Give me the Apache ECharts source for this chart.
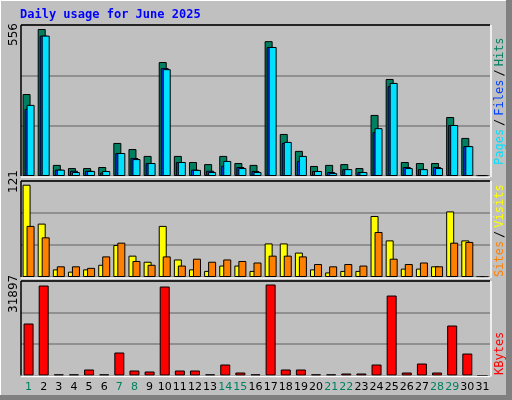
<!DOCTYPE html>
<html><head><meta charset="utf-8">
<script src="https://cdn.jsdelivr.net/npm/echarts@6/dist/echarts.min.js"></script>
<style>html,body{margin:0;padding:0;background:#c0c0c0}#c{width:512px;height:400px}</style>
</head><body><div id="c"></div>
<script>
const days = Array.from({length:31},(_,i)=>String(i+1));
const weekend = ['1','7','8','14','15','21','22','28','29'];
const hits  = [310,556,42,30,30,34,125,102,76,431,76,53,45,76,49,42,510,159,95,38,42,45,30,231,367,53,49,49,223,144,0];
const files = [254,531,24,20,20,13,87,68,49,408,53,24,20,39,34,19,488,125,57,19,15,26,15,166,340,34,26,34,193,113,0];
const pages = [269,531,24,15,19,19,87,64,49,404,53,23,15,57,30,15,488,129,76,19,11,26,15,181,352,30,26,30,193,113,0];
const visits= [121,70,10,7,10,16,42,28,20,67,23,10,8,15,15,8,44,44,32,10,6,8,8,80,48,11,11,14,86,48,0];
const sites = [67,52,14,14,12,27,45,21,16,27,15,24,20,23,21,19,28,28,27,17,14,17,15,59,24,17,19,14,45,46,0];
const kbytes= [18222,31540,400,400,2100,400,8060,1750,1400,31190,1750,1750,400,3850,1050,400,31897,2100,2100,400,400,700,700,3850,28030,1050,4200,1050,17520,7700,0];

const maxH = Math.max(...hits), maxV = Math.max(...visits), maxK = Math.max(...kbytes);
const topH = maxH*151/147, topV = maxV*96/92.3, topK = maxK*94.5/91;
const L=21, R=22;
const grids=[{left:L,right:R,top:25,height:151},{left:L,right:R,top:181,height:96},{left:L,right:R,top:281,height:94.5}];
function xa(i,show){return {type:'category',gridIndex:i,data:days,axisLine:{show:false},axisTick:{show:false},
  axisLabel:{show:show,margin:6,fontFamily:'DejaVu Sans',fontSize:11,interval:0,
    color:v=>weekend.includes(v)?'#008060':'#000'}};}
function ya(i,mx){return {type:'value',gridIndex:i,min:0,max:mx,interval:mx/3,axisLabel:{show:false},axisLine:{show:false},axisTick:{show:false},
  splitLine:{lineStyle:{color:'#808080',width:1.5}}};}
const bs={borderColor:'#000',borderWidth:1};
function bar(name,data,color,xi,w,gap){return {name,type:'bar',data,xAxisIndex:xi,yAxisIndex:xi,barWidth:w,barGap:gap,
  itemStyle:Object.assign({color},bs),animation:false,silent:true};}
function bevel(g){const x=g.left,y=g.top,w=512-g.left-g.right,h=g.height;return [
  {type:'line',shape:{x1:x,y1:y,x2:x+w,y2:y},style:{stroke:'#000',lineWidth:1.5},z:10},
  {type:'line',shape:{x1:x,y1:y,x2:x,y2:y+h},style:{stroke:'#000',lineWidth:1.5},z:10},
  {type:'line',shape:{x1:x,y1:y+h+1,x2:x+w,y2:y+h+1},style:{stroke:'#fff',lineWidth:1.5},z:10},
  {type:'line',shape:{x1:x+w+1,y1:y,x2:x+w+1,y2:y+h+1},style:{stroke:'#fff',lineWidth:1.5},z:10}];}
const ff='DejaVu Sans Mono';
const chart=echarts.init(document.getElementById('c'));
chart.setOption({
  backgroundColor:'#c0c0c0',animation:false,
  grid:grids.map(g=>Object.assign({show:true,backgroundColor:'#c0c0c0',borderWidth:0},g)),
  xAxis:[xa(0,false),xa(1,false),xa(2,true)],
  yAxis:[ya(0,topH),ya(1,topV),ya(2,topK)],
  series:[
    bar('Hits',hits,'#008060',0,8,'-75%'),
    bar('Files',files,'#0040ff',0,8,'-75%'),
    bar('Pages',pages,'#00e0ff',0,8,'-75%'),
    bar('Visits',visits,'#ffff00',1,8,'-50%'),
    bar('Sites',sites,'#ff8000',1,8,'-50%'),
    bar('KBytes',kbytes,'#ff0000',2,10,'0%')
  ],
  graphic:[
    {type:'rect',shape:{x:0,y:0,width:512,height:400},style:{fill:'none',stroke:'#fff',lineWidth:2},z:1},
    {type:'rect',shape:{x:506,y:0,width:6,height:400},style:{fill:'#808080'},z:1},
    {type:'rect',shape:{x:0,y:395,width:512,height:5},style:{fill:'#808080'},z:1},
    {type:'text',x:20,y:9,style:{text:'Daily usage for June 2025',fill:'#0000ff',font:'bold 12px '+ff},z:20},
    {type:'text',x:8,y:46,rotation:Math.PI/2,style:{text:String(maxH),fill:'#000',font:'12px DejaVu Sans'},z:20},
    {type:'text',x:8,y:193,rotation:Math.PI/2,style:{text:String(maxV),fill:'#000',font:'12px DejaVu Sans'},z:20},
    {type:'text',x:8,y:313,rotation:Math.PI/2,style:{text:String(maxK),fill:'#000',font:'12px DejaVu Sans'},z:20},
    {type:'text',x:494,y:165,rotation:Math.PI/2,style:{text:'{p|Pages}{s|/}{f|Files}{s|/}{h|Hits}',font:'12px '+ff,
      rich:{p:{fill:'#00e0ff',font:'12px '+ff},f:{fill:'#0040ff',font:'12px '+ff},h:{fill:'#008060',font:'12px '+ff},s:{fill:'#000',font:'12px '+ff,padding:[0,3]}}},z:20},
    {type:'text',x:494,y:277,rotation:Math.PI/2,style:{text:'{a|Sites}{s|/}{b|Visits}',font:'12px '+ff,
      rich:{a:{fill:'#ff8000',font:'12px '+ff},b:{fill:'#ffff00',font:'12px '+ff},s:{fill:'#000',font:'12px '+ff,padding:[0,3]}}},z:20},
    {type:'text',x:494,y:375,rotation:Math.PI/2,style:{text:'KBytes',fill:'#ff0000',font:'12px '+ff},z:20},
    ...grids.flatMap(bevel)
  ]
});
</script></body></html>
